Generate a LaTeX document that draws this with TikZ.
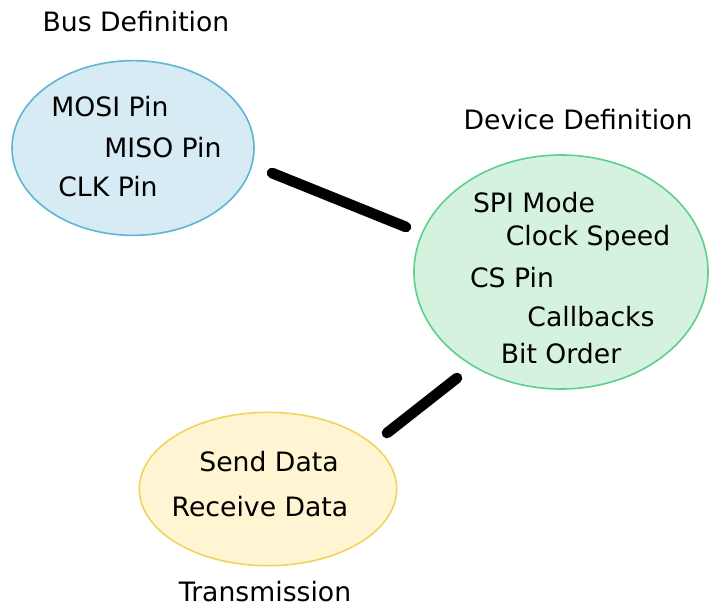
\documentclass[tikz,border=0pt]{standalone}
\usepackage{fontspec}
\setmainfont{DejaVu Sans}
\usetikzlibrary{shapes.geometric}
\definecolor{busfill}{HTML}{D6EBF3}
\definecolor{busline}{HTML}{5DB6D2}
\definecolor{devfill}{HTML}{D5F2DE}
\definecolor{devline}{HTML}{5ECF8A}
\definecolor{txfill}{HTML}{FFF5D3}
\definecolor{txline}{HTML}{F3D35C}
\tikzset{
  blob/.style={ellipse, line width=1.2pt, inner sep=0pt},
  item/.style={inner sep=0pt, font=\fontsize{20}{23}\selectfont},
  link/.style={line width=8pt, line cap=round}
}
\begin{document}
\begin{tikzpicture}[x=0.75pt, y=-0.75pt]
			\useasboundingbox (0,0) rectangle (709,607);
			% the three ellipses
			\node[blob, draw=busline, fill=busfill, minimum width=181.5pt, minimum height=131pt] (bus) at (133,148) {};
			\node[blob, draw=devline, fill=devfill, minimum width=220.5pt, minimum height=175.5pt] (dev) at (561,272) {};
			\node[blob, draw=txline, fill=txfill, minimum width=193pt, minimum height=115pt] (tx) at (268,489) {};
			% titles
			\node[item] (bustitle) at (136,22) {Bus Definition};
			\node[item] (devtitle) at (578,120) {Device Definition};
			\node[item] (txtitle) at (265,592) {Transmission};
			% bus items
			\node[item] (mosi) at (110,107) {MOSI Pin};
			\node[item] (miso) at (163,148) {MISO Pin};
			\node[item] (clk) at (108,187) {CLK Pin};
			% device items
			\node[item] (mode) at (534,203) {SPI Mode};
			\node[item] (speed) at (588,238) {Clock Speed};
			\node[item] (cs) at (512,278) {CS Pin};
			\node[item] (cb) at (591,317) {Callbacks};
			\node[item] (order) at (561,354) {Bit Order};
			% transmission items
			\node[item] (send) at (269,462) {Send Data};
			\node[item] (recv) at (260,507) {Receive Data};
			% connectors
			\coordinate (busend) at (272,173);
			\coordinate (devtop) at (406,227);
			\coordinate (devbot) at (457,378);
			\coordinate (txend) at (387,433);
			\draw[link] (busend) -- (devtop);
			\draw[link] (devbot) -- (txend);
		\end{tikzpicture}
\end{document}
